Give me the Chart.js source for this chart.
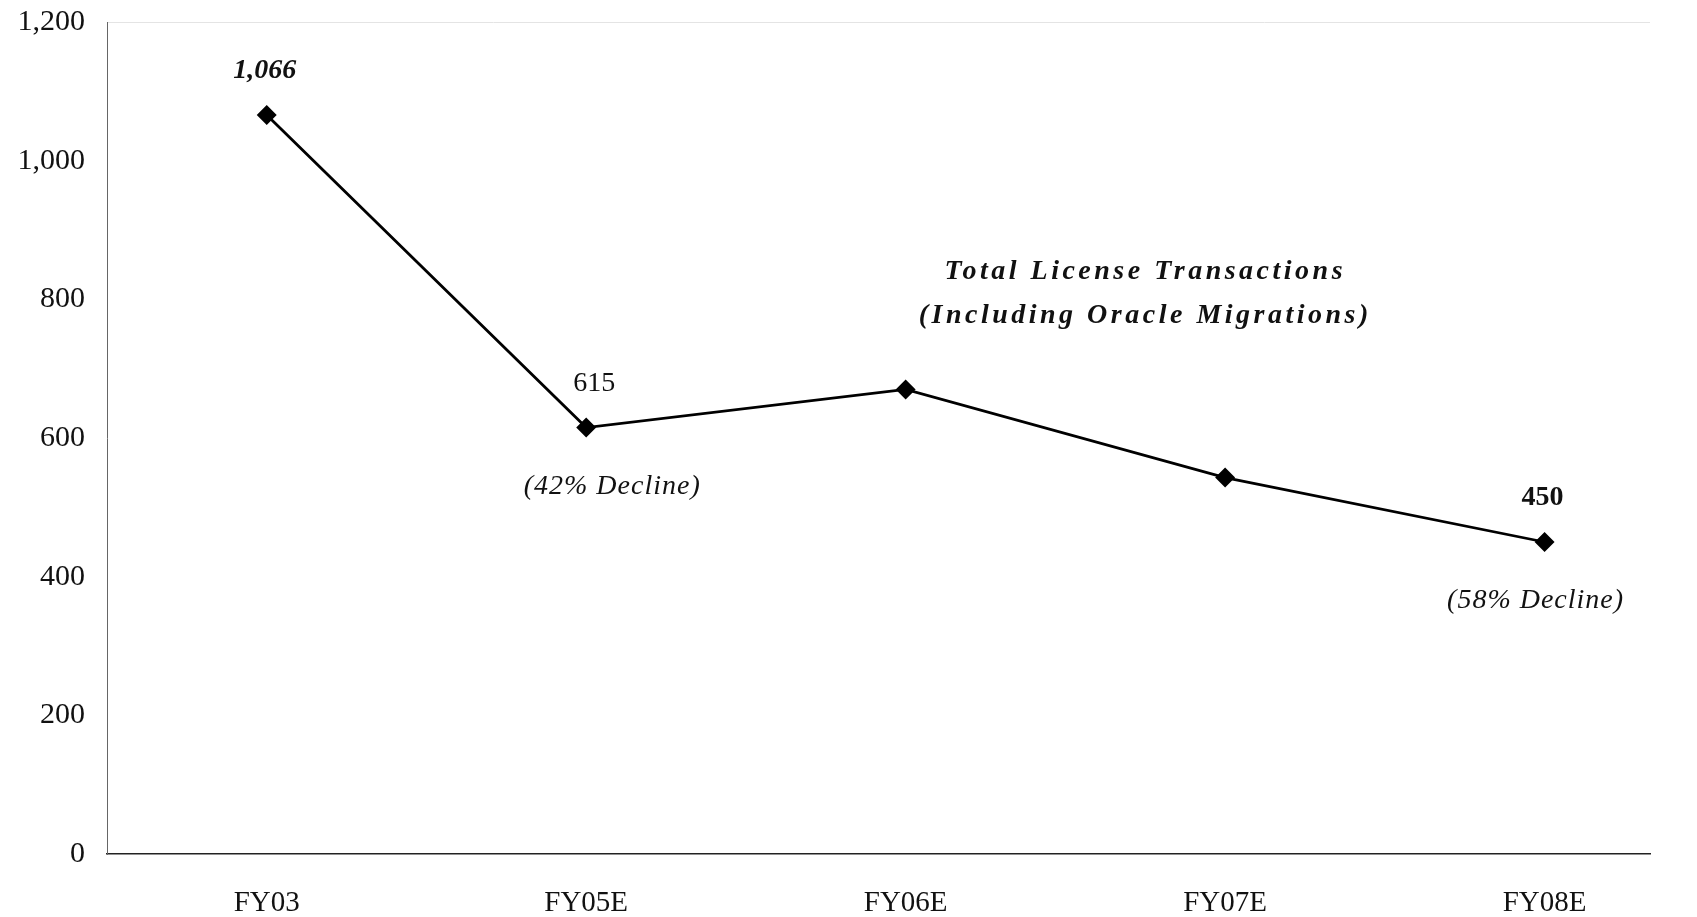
<!DOCTYPE html>
<html>
<head>
<meta charset="utf-8">
<script src="https://cdn.jsdelivr.net/npm/chart.js@4"></script>
<style>
    html, body { margin: 0; padding: 0; background: #fff; }
    #wrap { width: 1697px; height: 917px; }
</style>
</head>
<body>
<div id="wrap"><canvas id="licenseChart" width="1697" height="917"></canvas></div>
<script>
// Chart data
const categories = ['FY03', 'FY05E', 'FY06E', 'FY07E', 'FY08E'];
const transactions = [1066, 615, 670, 543, 450];
const valueLabels = ['1,066', '615', '', '', '450'];
const valueLabelBold = [true, false, false, false, true];
const valueLabelItalic = [true, false, false, false, false];
const declineNotes = ['', '(42% Decline)', '', '', '(58% Decline)'];
const yTicks = [0, 200, 400, 600, 800, 1000, 1200];
const titleLines = ['Total License Transactions', '(Including Oracle Migrations)'];

const serif = '"Liberation Serif", "DejaVu Serif", serif';

// Labels above/below points and the floating title
const annotatePlugin = {
    id: 'annotate',
    afterDatasetsDraw(chart, args, opts) {
        const ctx = chart.ctx;
        const meta = chart.getDatasetMeta(0);
        ctx.save();
        ctx.fillStyle = '#111';
        ctx.textAlign = 'center';
        ctx.textBaseline = 'middle';
        meta.data.forEach((pt, i) => {
            if (valueLabels[i]) {
                const style = (valueLabelItalic[i] ? 'italic ' : '') + (valueLabelBold[i] ? 'bold ' : '');
                ctx.font = style + '28px ' + serif;
                ctx.fillText(valueLabels[i], pt.x + opts.labelDx[i], pt.y - 44);
            }
            if (declineNotes[i]) {
                ctx.font = 'italic 28px ' + serif;
                ctx.letterSpacing = '1px';
                ctx.fillText(declineNotes[i], pt.x + opts.noteDx[i], pt.y + 59);
                ctx.letterSpacing = '0px';
            }
        });

        const xs = chart.scales.x;
        const ys = chart.scales.y;
        const tx = xs.getPixelForValue(opts.titleX);
        ctx.font = 'italic 600 28px ' + serif;
        ctx.letterSpacing = '3.5px';
        ctx.fillText(titleLines[0], tx, ys.getPixelForValue(opts.titleY[0]));
        ctx.fillText(titleLines[1], tx, ys.getPixelForValue(opts.titleY[1]));
        ctx.restore();
    }
};

document.addEventListener('DOMContentLoaded', () => {
    new Chart(document.getElementById('licenseChart'), {
        type: 'line',
        data: {
            datasets: [{
                data: transactions.map((v, i) => ({ x: i, y: v })),
                borderColor: '#000',
                borderWidth: 2.8,
                pointStyle: 'rectRot',
                pointRadius: 8,
                pointBackgroundColor: '#000',
                pointBorderColor: '#000',
                tension: 0
            }]
        },
        options: {
            responsive: false,
            animation: false,
            layout: { padding: { top: 22, right: 47, left: 0, bottom: 0 } },
            plugins: {
                legend: { display: false },
                tooltip: { enabled: false },
                annotate: {
                    labelDx: [-2, 8, 0, 0, -2],
                    noteDx: [0, 26, 0, 0, -9],
                    titleX: 2.75,
                    titleY: [840, 776]
                }
            },
            scales: {
                x: {
                    type: 'linear',
                    min: -0.5,
                    max: 4.33,
                    afterBuildTicks: (scale) => {
                        scale.ticks = categories.map((c, i) => ({ value: i }));
                    },
                    afterFit: (scale) => { scale.height = 63; },
                    grid: { display: false, drawTicks: false },
                    border: { color: '#222', width: 1.5 },
                    ticks: {
                        padding: 32,
                        color: '#111',
                        font: { family: serif, size: 29 },
                        callback: (v) => categories[v]
                    }
                },
                y: {
                    min: 0,
                    max: 1200,
                    afterBuildTicks: (scale) => {
                        scale.ticks = yTicks.map(v => ({ value: v }));
                    },
                    afterFit: (scale) => {
                        scale.width = 107;
                        scale.paddingTop = 0;
                        scale.paddingBottom = 0;
                    },
                    grid: {
                        drawTicks: false,
                        lineWidth: 1,
                        color: (c) => c.tick && c.tick.value === 1200 ? '#e4e4e4' : 'rgba(0,0,0,0)'
                    },
                    border: { color: '#666', width: 1 },
                    ticks: {
                        padding: 22,
                        color: '#111',
                        font: { family: serif, size: 30 },
                        callback: (v) => v.toLocaleString('en-US')
                    }
                }
            }
        },
        plugins: [annotatePlugin]
    });
});
</script>
</body>
</html>
